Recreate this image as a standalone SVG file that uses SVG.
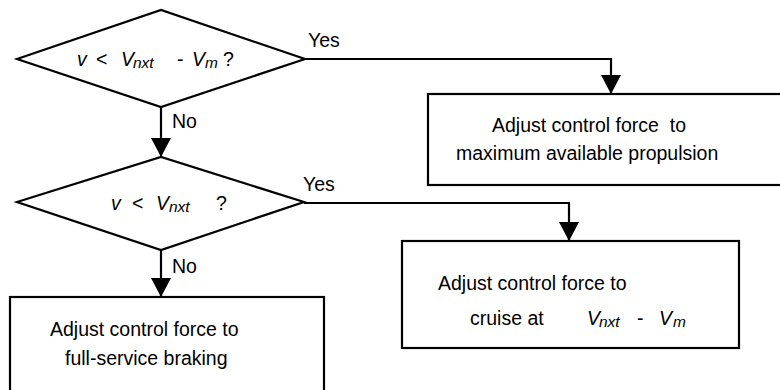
<svg xmlns="http://www.w3.org/2000/svg" width="780" height="390" viewBox="0 0 780 390">
<style>
.s{fill:none;stroke:#000;stroke-width:2.2}
.b{fill:#fff;stroke:#000;stroke-width:2.2}
text{font-family:"Liberation Sans",Arial,sans-serif;font-size:19.5px;fill:#000}
.i{font-style:italic}
.sub{font-size:15.5px;font-style:italic}
</style>
<defs>
<marker id="ah" markerUnits="userSpaceOnUse" markerWidth="20" markerHeight="20" refX="19" refY="10" orient="auto">
<path d="M0,0 L19,10 L0,20 z" fill="#000"/>
</marker>
</defs>
<g id="connectors">
<polyline class="s" points="305,59 611,59 611,94" marker-end="url(#ah)"/>
<polyline class="s" points="304,203 569,203 569,241" marker-end="url(#ah)"/>
<line class="s" x1="161" y1="107" x2="161" y2="157" marker-end="url(#ah)"/>
<line class="s" x1="161" y1="250" x2="161" y2="297" marker-end="url(#ah)"/>
<text x="308" y="47">Yes</text>
<text x="303" y="191">Yes</text>
<text x="172" y="128">No</text>
<text x="172" y="273">No</text>
</g>
<g id="d1">
<polygon class="b" points="17,59 161,10 305,59 161,107"/>
<text x="77" y="66" class="i">v</text>
<text x="96" y="66">&lt;</text>
<text x="121" y="66" class="i">V</text>
<text x="133" y="68" class="sub">nxt</text>
<text x="177" y="66">-</text>
<text x="192" y="66" class="i">V</text>
<text x="205" y="68" class="sub">m</text>
<text x="223" y="66">?</text>
</g>
<g id="d2">
<polygon class="b" points="17,202 161,157 304,202 161,250"/>
<text x="111" y="210" class="i">v</text>
<text x="132" y="210">&lt;</text>
<text x="156" y="210" class="i">V</text>
<text x="169" y="212" class="sub">nxt</text>
<text x="216" y="210">?</text>
</g>
<g id="box1">
<rect class="b" x="428" y="94" width="360" height="91"/>
<text x="492" y="132" xml:space="preserve">Adjust control force  to</text>
<text x="456" y="160">maximum available propulsion</text>
</g>
<g id="box2">
<rect class="b" x="402" y="241" width="337" height="107"/>
<text x="438" y="290">Adjust control force to</text>
<text x="470" y="325">cruise at</text>
<text x="587" y="325" class="i">V</text>
<text x="599" y="327" class="sub">nxt</text>
<text x="637" y="325">-</text>
<text x="659" y="325" class="i">V</text>
<text x="673" y="327" class="sub">m</text>
</g>
<g id="box3">
<rect class="b" x="10" y="297" width="314" height="100"/>
<text x="50" y="336">Adjust control force to</text>
<text x="65" y="365">full-service braking</text>
</g>
</svg>
